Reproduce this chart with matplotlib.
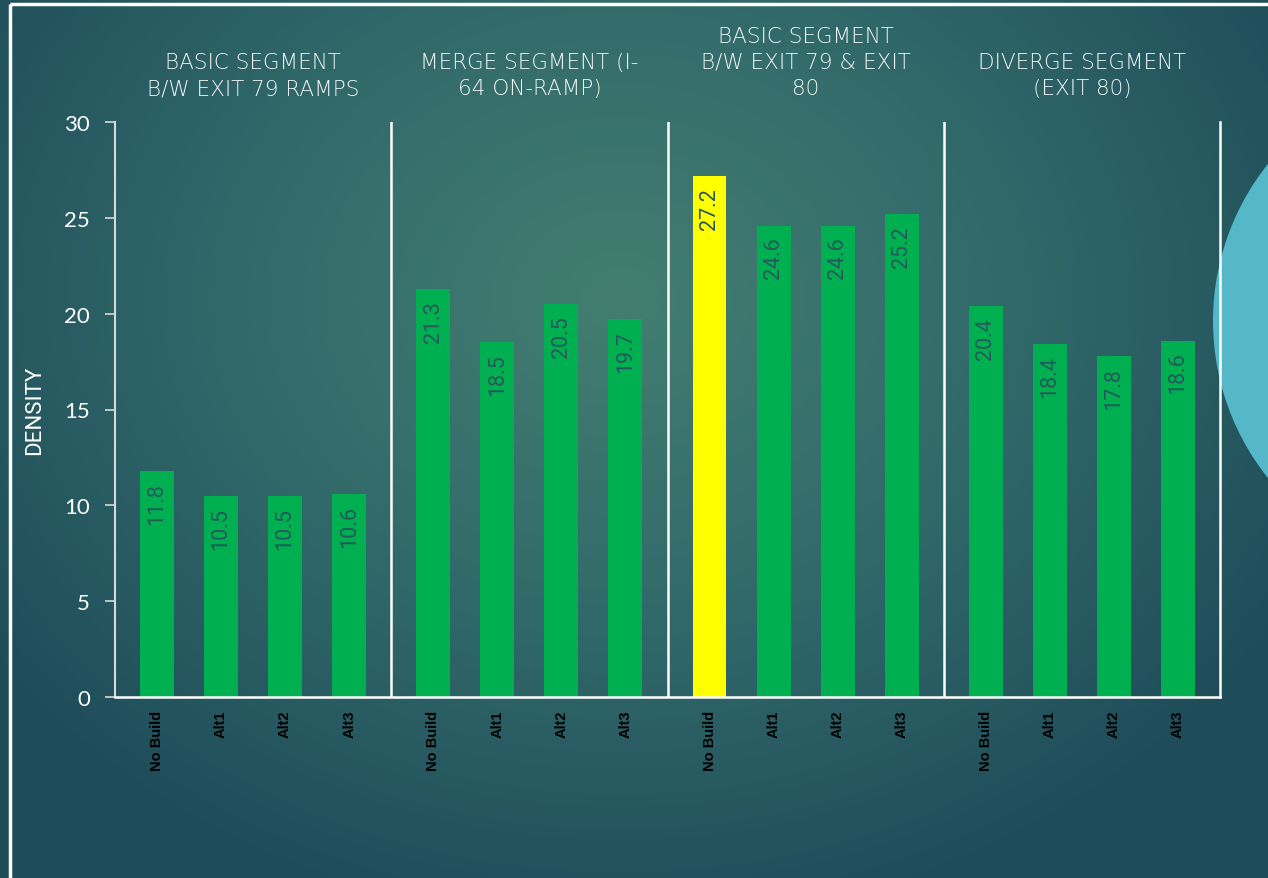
import matplotlib
matplotlib.use("Agg")
import matplotlib.pyplot as plt
import numpy as np
from matplotlib.colors import LinearSegmentedColormap
from matplotlib.patches import Circle, Rectangle

# data
groups = ["BASIC SEGMENT\nB/W EXIT 79 RAMPS",
          "MERGE SEGMENT (I-\n64 ON-RAMP)",
          "BASIC SEGMENT\nB/W EXIT 79 & EXIT\n80",
          "DIVERGE SEGMENT\n(EXIT 80)"]
alts = ["No Build", "Alt1", "Alt2", "Alt3"]
seg1 = [11.8, 10.5, 10.5, 10.6]
seg2 = [21.3, 18.5, 20.5, 19.7]
seg3 = [27.2, 24.6, 24.6, 25.2]
seg4 = [20.4, 18.4, 17.8, 18.6]
values = [seg1, seg2, seg3, seg4]
highlight = (2, 0)   # group 3, No Build in yellow

W, H = 1268, 879
fig = plt.figure(figsize=(W / 100, H / 100), dpi=100)

# background gradient + circle
bg = fig.add_axes([0, 0, 1, 1])
bg.set_xlim(0, W)
bg.set_ylim(H, 0)
bg.axis("off")
yy, xx = np.mgrid[0:H, 0:W]
r = np.sqrt(((xx - 620) / 780.0) ** 2 + ((yy - 300) / 640.0) ** 2)
cmap = LinearSegmentedColormap.from_list("bg", ["#437e71", "#31696a", "#1e4c59"])
bg.imshow(np.clip(r, 0, 1), cmap=cmap, extent=[0, W, H, 0], aspect="auto", vmin=0, vmax=1)
bg.add_patch(Circle((1465, 322), 252, color="#55b8c9", lw=0))
bg.add_patch(Rectangle((10, 5), 1400, 1000, fill=False, ec="white", lw=2.5))

ax = fig.add_axes([115 / W, 1 - 698 / H, (1220 - 115) / W, (698 - 123) / H])
ax.patch.set_alpha(0)

G = 4.3125
off = 0.656
bw = 0.53
xs, hs, cols, labs = [], [], [], []
for g, vals in enumerate(values):
    for i, v in enumerate(vals):
        xs.append(g * G + off + i)
        hs.append(v)
        cols.append("#ffff00" if (g, i) == highlight else "#00b050")
        labs.append(alts[i])

bars = ax.bar(xs, hs, width=bw, color=cols, zorder=2)
for b, v in zip(bars, hs):
    ax.annotate(f"{v:.1f}", (b.get_x() + b.get_width() / 2, v), xytext=(0, -8),
                textcoords="offset points", rotation=90, ha="center", va="top",
                fontsize=15.5, color="#255a5c", family="Roboto", zorder=3)

ax.set_xlim(0, 4 * G)
ax.set_ylim(0, 30)
ax.set_yticks(range(0, 31, 5))
ax.set_xticks(xs)
ax.set_xticklabels(labs, rotation=90, fontsize=10.5, fontweight="bold",
                   family="Liberation Sans", color="black")
ax.tick_params(axis="x", length=0, pad=9)
ax.tick_params(axis="y", length=7, width=1.2, color="#d9d9d9", labelcolor="white",
               labelsize=16, pad=11)
for t in ax.get_yticklabels():
    t.set_family("Lato")

ax.spines["top"].set_visible(False)
ax.spines["left"].set_color("#d9d9d9")
ax.spines["left"].set_linewidth(1.5)
ax.spines["right"].set_color("white")
ax.spines["right"].set_linewidth(1.8)
ax.spines["bottom"].set_color("white")
ax.spines["bottom"].set_linewidth(1.8)
for g in range(1, 4):
    ax.axvline(g * G, color="white", lw=1.8, zorder=1)

ax.set_ylabel("DENSITY", fontsize=16, color="white", family="Roboto", labelpad=14)

for g, name in enumerate(groups):
    ax.annotate(name, ((g + 0.5) * G, 30), xytext=(0, 17), textcoords="offset points",
                ha="center", va="bottom", multialignment="center", fontsize=15.5,
                color="#f0f4f3", family="DejaVu Sans", fontweight="light",
                linespacing=1.4, annotation_clip=False)

fig.savefig("out.png", dpi=100)
